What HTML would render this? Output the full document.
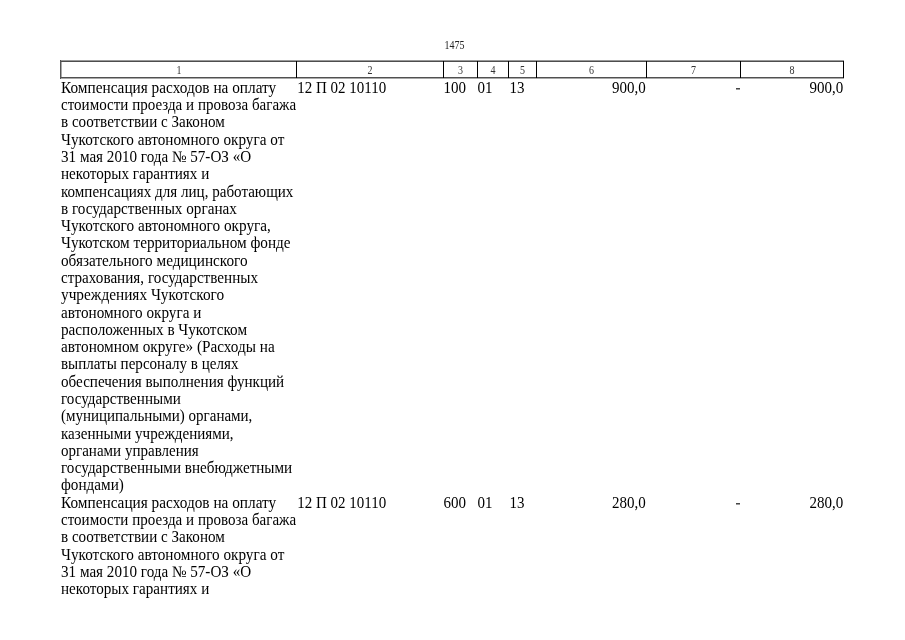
<!DOCTYPE html>
<html>
<head>
<meta charset="utf-8">
<style>
html,body{margin:0;padding:0;background:#fff;}
body{width:905px;height:640px;overflow:hidden;position:relative;font-family:"Liberation Serif",serif;color:#000;}
.a{position:absolute;white-space:nowrap;}
.r{position:absolute;}
.h{position:absolute;font-size:10px;line-height:10px;color:#333;top:65.8px;text-align:center;transform:scaleY(1.2);transform-origin:0 8.5px;}
.t{position:absolute;font-size:15.0px;line-height:20px;white-space:nowrap;transform:scaleY(1.06);transform-origin:0 15.0px;}
</style>
</head>
<body>
<div id="pg" style="position:absolute;left:0;top:0;width:905px;height:640px;will-change:transform;">
<div class="a" style="left:444.5px;top:39.6px;font-size:10px;line-height:11px;color:#222;transform:scaleY(1.15);transform-origin:0 9px;">1475</div>
<div class="r" style="left:60px;top:60px;width:784px;height:1px;background:#999;"></div>
<div class="r" style="left:60px;top:61px;width:784px;height:1px;background:#4d4d4d;"></div>
<div class="r" style="left:60px;top:77px;width:784px;height:1px;background:#505050;"></div>
<div class="r" style="left:60px;top:78px;width:784px;height:1px;background:#a8a8a8;"></div>
<div class="r" style="left:60px;top:60px;width:1px;height:19px;background:#555;"></div>
<div class="r" style="left:61px;top:62px;width:1px;height:15px;background:#aaa;"></div>
<div class="r" style="left:296px;top:61px;width:1px;height:17px;background:#000;"></div>
<div class="r" style="left:443px;top:61px;width:1px;height:17px;background:#000;"></div>
<div class="r" style="left:477px;top:61px;width:1px;height:17px;background:#000;"></div>
<div class="r" style="left:508px;top:61px;width:1px;height:17px;background:#000;"></div>
<div class="r" style="left:536px;top:61px;width:1px;height:17px;background:#000;"></div>
<div class="r" style="left:646px;top:61px;width:1px;height:17px;background:#000;"></div>
<div class="r" style="left:740px;top:61px;width:1px;height:17px;background:#000;"></div>
<div class="r" style="left:843px;top:61px;width:1px;height:17px;background:#000;"></div>
<div class="h" style="left:62px;width:234px;">1</div>
<div class="h" style="left:297px;width:146px;">2</div>
<div class="h" style="left:444px;width:33px;">3</div>
<div class="h" style="left:478px;width:30px;">4</div>
<div class="h" style="left:509px;width:27px;">5</div>
<div class="h" style="left:537px;width:109px;">6</div>
<div class="h" style="left:647px;width:93px;">7</div>
<div class="h" style="left:741px;width:102px;">8</div>
<div class="t" style="left:61px;top:77.76px;transform:scale(1.0196,1.06);">Компенсация расходов на оплату</div>
<div class="t" style="left:61px;top:95.05px;transform:scale(1.0034,1.06);">стоимости проезда и провоза багажа</div>
<div class="t" style="left:61px;top:112.34px;transform:scale(1.0068,1.06);">в соответствии с Законом</div>
<div class="t" style="left:61px;top:129.63px;transform:scale(1.015,1.06);">Чукотского автономного округа от</div>
<div class="t" style="left:61px;top:146.92px;transform:scale(1.0085,1.06);">31 мая 2010 года № 57-ОЗ «О</div>
<div class="t" style="left:61px;top:164.21px;transform:scale(1.0088,1.06);">некоторых гарантиях и</div>
<div class="t" style="left:61px;top:181.50px;transform:scale(1.0048,1.06);">компенсациях для лиц, работающих</div>
<div class="t" style="left:61px;top:198.79px;transform:scale(1.0139,1.06);">в государственных органах</div>
<div class="t" style="left:61px;top:216.08px;transform:scale(1.018,1.06);">Чукотского автономного округа,</div>
<div class="t" style="left:61px;top:233.37px;transform:scale(1.0146,1.06);">Чукотском территориальном фонде</div>
<div class="t" style="left:61px;top:250.66px;transform:scale(1.0164,1.06);">обязательного медицинского</div>
<div class="t" style="left:61px;top:267.95px;transform:scale(1.0108,1.06);">страхования, государственных</div>
<div class="t" style="left:61px;top:285.24px;transform:scale(1.0208,1.06);">учреждениях Чукотского</div>
<div class="t" style="left:61px;top:302.53px;transform:scale(1.0116,1.06);">автономного округа и</div>
<div class="t" style="left:61px;top:319.82px;transform:scale(1.0136,1.06);">расположенных в Чукотском</div>
<div class="t" style="left:61px;top:337.11px;transform:scale(1.0152,1.06);">автономном округе» (Расходы на</div>
<div class="t" style="left:61px;top:354.40px;transform:scale(1.0045,1.06);">выплаты персоналу в целях</div>
<div class="t" style="left:61px;top:371.69px;transform:scale(1.0077,1.06);">обеспечения выполнения функций</div>
<div class="t" style="left:61px;top:388.98px;transform:scale(1.0067,1.06);">государственными</div>
<div class="t" style="left:61px;top:406.27px;">(муниципальными) органами,</div>
<div class="t" style="left:61px;top:423.56px;transform:scale(1.0047,1.06);">казенными учреждениями,</div>
<div class="t" style="left:61px;top:440.85px;transform:scale(1.0022,1.06);">органами управления</div>
<div class="t" style="left:61px;top:458.14px;transform:scale(1.0087,1.06);">государственными внебюджетными</div>
<div class="t" style="left:61px;top:475.43px;transform:scale(1.013,1.06);">фондами)</div>
<div class="t" style="left:61px;top:492.72px;transform:scale(1.0196,1.06);">Компенсация расходов на оплату</div>
<div class="t" style="left:61px;top:510.01px;transform:scale(1.0034,1.06);">стоимости проезда и провоза багажа</div>
<div class="t" style="left:61px;top:527.30px;transform:scale(1.0068,1.06);">в соответствии с Законом</div>
<div class="t" style="left:61px;top:544.59px;transform:scale(1.015,1.06);">Чукотского автономного округа от</div>
<div class="t" style="left:61px;top:561.88px;transform:scale(1.0085,1.06);">31 мая 2010 года № 57-ОЗ «О</div>
<div class="t" style="left:61px;top:579.17px;transform:scale(1.0088,1.06);">некоторых гарантиях и</div>
<div class="t" style="left:297.2px;top:77.76px;">12 П 02 10110</div>
<div class="t" style="left:443.5px;top:77.76px;">100</div>
<div class="t" style="left:477.4px;top:77.76px;">01</div>
<div class="t" style="left:509.6px;top:77.76px;">13</div>
<div class="t" style="right:259.3px;top:77.76px;">900,0</div>
<div class="r" style="left:736px;top:88px;width:4px;height:1px;background:#474747;"></div>
<div class="r" style="left:736px;top:89px;width:4px;height:1px;background:#9c9c9c;"></div>
<div class="t" style="right:61.7px;top:77.76px;">900,0</div>
<div class="t" style="left:297.2px;top:492.72px;">12 П 02 10110</div>
<div class="t" style="left:443.5px;top:492.72px;">600</div>
<div class="t" style="left:477.4px;top:492.72px;">01</div>
<div class="t" style="left:509.6px;top:492.72px;">13</div>
<div class="t" style="right:259.3px;top:492.72px;">280,0</div>
<div class="r" style="left:736px;top:503px;width:4px;height:1px;background:#474747;"></div>
<div class="r" style="left:736px;top:504px;width:4px;height:1px;background:#9c9c9c;"></div>
<div class="t" style="right:61.7px;top:492.72px;">280,0</div>
</div>
</body>
</html>
